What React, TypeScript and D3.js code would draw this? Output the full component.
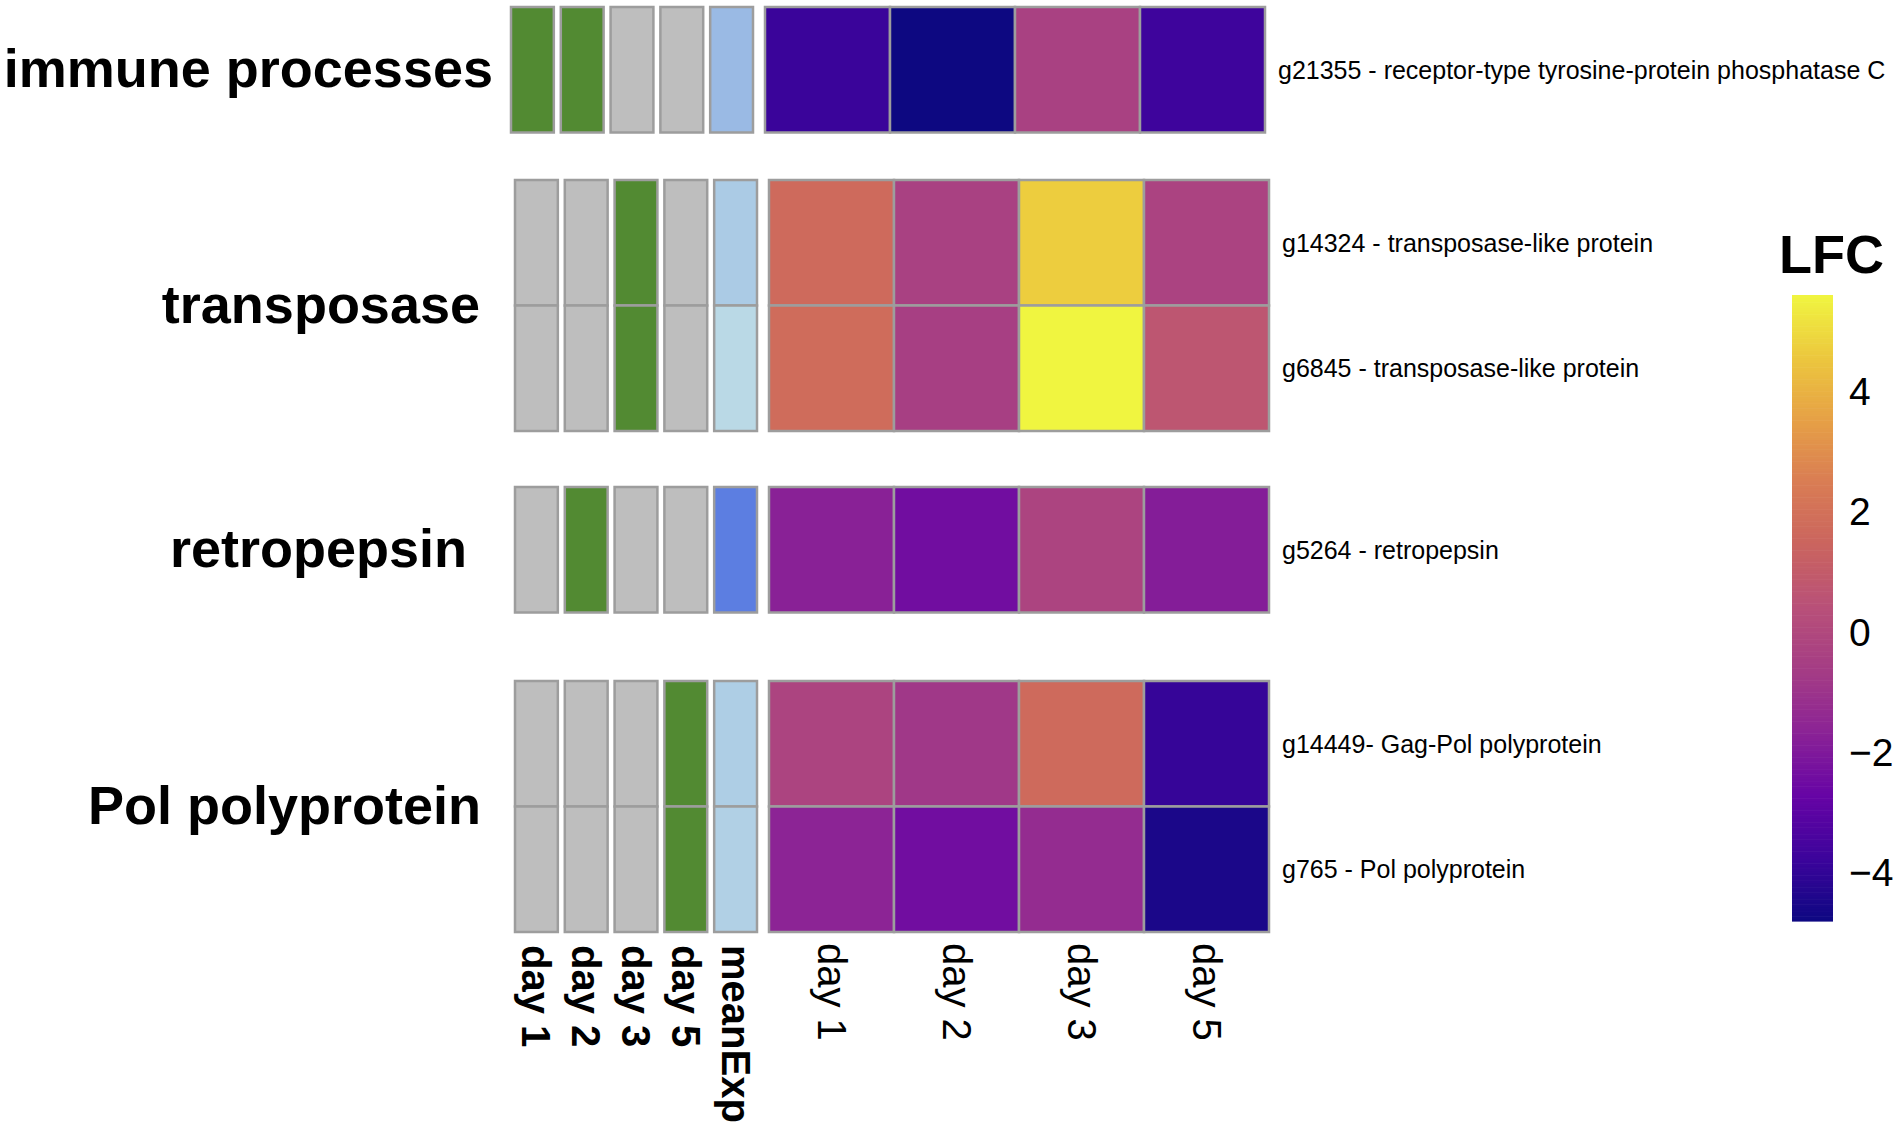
import React from "react";
import * as d3 from "d3";

// ---------- data ----------
const groups = ["immune processes", "transposase", "retropepsin", "Pol polyprotein"];
const genes = [
  "g21355 - receptor-type tyrosine-protein phosphatase C",
  "g14324 - transposase-like protein",
  "g6845 - transposase-like protein",
  "g5264 - retropepsin",
  "g14449- Gag-Pol polyprotein",
  "g765 - Pol polyprotein",
];
const geneGroup = [0, 1, 1, 2, 3, 3];
const days = ["day 1", "day 2", "day 3", "day 5"];
const annotCols = ["day 1", "day 2", "day 3", "day 5", "meanExp"];
// log fold change per gene x day
const lfc = [
  [-3.8, -4.8, -0.4, -3.7],
  [1.7, -0.4, 4.7, -0.3],
  [1.8, -0.5, 5.6, 0.7],
  [-1.7, -2.4, -0.2, -1.85],
  [-0.2, -0.8, 1.7, -3.9],
  [-1.6, -2.4, -1.3, -4.5],
];
// significance flags per gene x day (1 = significant)
const significant = [
  [1, 1, 0, 0],
  [0, 0, 1, 0],
  [0, 0, 1, 0],
  [0, 1, 0, 0],
  [0, 0, 0, 1],
  [0, 0, 0, 1],
];
const meanExp = [0.3, 0.15, 0.02, 0.85, 0.12, 0.1];
const lfcTicks = [-4, -2, 0, 2, 4];
const lfcDomain = [-4.8, 5.6];

// ---------- layout / style ----------
const W = 1901;
const H = 1133;
const FONT = "'Liberation Sans', Arial, Helvetica, sans-serif";
const rowH = 125.5;
const blockTop = [7, 180, 487, 681];
const blockDx = [0, 4, 4, 4];
const groupLabelRight = [493, 480, 467, 481];
const annotX0 = 511;
const annotX1 = 753;
const heatX0 = 765;
const heatX1 = 1265;
const borderColor = "#9d9d9d";
const sigColor = "#528a32";
const nsColor = "#bebebe";
const paletteStops = [
  "#0d0881", "#3c049b", "#6604a5", "#8a2296", "#a43c85",
  "#b85079", "#ca645f", "#d97c54", "#e6a046", "#ecc73e", "#f0f540",
];

const color = d3.scaleSequential(d3.piecewise(d3.interpolateRgb, paletteStops)).domain(lfcDomain);
const expColor = d3.scaleLinear<string>().domain([0, 1]).range(["#bcdbe6", "#4b6de0"]);

export default function App() {
  const annotX = d3.scaleBand<string>().domain(annotCols).range([annotX0, annotX1]).paddingInner(0.14);
  const heatX = d3.scaleBand<string>().domain(days).range([heatX0, heatX1]);
  const barY = d3.scaleLinear().domain(lfcDomain).range([921, 295]);
  const sw = 2.5;

  const blocks = groups.map((g, gi) => {
    const idx = genes.map((_, i) => i).filter((i) => geneGroup[i] === gi);
    const y = d3
      .scaleBand<number>()
      .domain(idx)
      .range([blockTop[gi], blockTop[gi] + idx.length * rowH]);
    return { g, gi, idx, y, dx: blockDx[gi] };
  });

  const last = blocks[blocks.length - 1];
  const labelY = last.y.range()[1] + 11;

  const stripes = d3.range(0, 260).map((i) => {
    const v0 = lfcDomain[0] + ((lfcDomain[1] - lfcDomain[0]) * i) / 260;
    const v1 = lfcDomain[0] + ((lfcDomain[1] - lfcDomain[0]) * (i + 1)) / 260;
    return { v0, v1 };
  });

  return (
    <svg
      width={W}
      height={H}
      style={{ position: "absolute", left: 0, top: 0, display: "block", background: "#fff" }}
      fontFamily={FONT}
    >
      <rect x={0} y={0} width={W} height={H} fill="#fff" />
      {blocks.map((b) => {
        const [y0, y1] = b.y.range();
        const cy = (y0 + y1) / 2;
        return (
          <g key={b.g}>
            <text
              x={groupLabelRight[b.gi]}
              y={cy + 17}
              textAnchor="end"
              fontWeight="bold"
              fontSize={54}
              fill="#000"
            >
              {b.g}
            </text>
            {b.idx.map((gene) => (
              <g key={gene}>
                {annotCols.map((c, ci) => {
                  const fill =
                    ci < 4 ? (significant[gene][ci] ? sigColor : nsColor) : expColor(meanExp[gene]);
                  return (
                    <rect
                      key={c}
                      x={(annotX(c) as number) + b.dx}
                      y={b.y(gene) as number}
                      width={annotX.bandwidth()}
                      height={b.y.bandwidth()}
                      fill={fill}
                      stroke={borderColor}
                      strokeWidth={sw}
                    />
                  );
                })}
                {days.map((d, di) => (
                  <rect
                    key={d}
                    x={(heatX(d) as number) + b.dx}
                    y={b.y(gene) as number}
                    width={heatX.bandwidth()}
                    height={b.y.bandwidth()}
                    fill={color(lfc[gene][di])}
                    stroke={borderColor}
                    strokeWidth={sw}
                  />
                ))}
                <text
                  x={heatX1 + b.dx + 13}
                  y={(b.y(gene) as number) + b.y.bandwidth() / 2}
                  dominantBaseline="central"
                  fontSize={25}
                  fill="#000"
                >
                  {genes[gene]}
                </text>
              </g>
            ))}
          </g>
        );
      })}

      {/* column labels */}
      {annotCols.map((c) => {
        const x = (annotX(c) as number) + annotX.bandwidth() / 2 + last.dx;
        return (
          <text
            key={"a" + c}
            transform={`translate(${x},${labelY + 2}) rotate(90)`}
            dominantBaseline="central"
            fontWeight="bold"
            fontSize={40}
            fill="#000"
          >
            {c}
          </text>
        );
      })}
      {days.map((d) => {
        const x = (heatX(d) as number) + heatX.bandwidth() / 2 + last.dx;
        return (
          <text
            key={"h" + d}
            transform={`translate(${x},${labelY}) rotate(90)`}
            dominantBaseline="central"
            fontSize={40}
            fill="#000"
          >
            {d}
          </text>
        );
      })}

      {/* legend */}
      <text x={1779} y={273} fontWeight="bold" fontSize={54} fill="#000">
        LFC
      </text>
      {stripes.map((s, i) => (
        <rect
          key={i}
          x={1792}
          y={barY(s.v1)}
          width={41}
          height={barY(s.v0) - barY(s.v1) + 0.6}
          fill={color((s.v0 + s.v1) / 2)}
        />
      ))}
      {lfcTicks.map((t) => (
        <text
          key={t}
          x={1849}
          y={barY(t)}
          dominantBaseline="central"
          fontSize={39}
          fill="#000"
        >
          {d3.format("d")(t)}
        </text>
      ))}
    </svg>
  );
}
